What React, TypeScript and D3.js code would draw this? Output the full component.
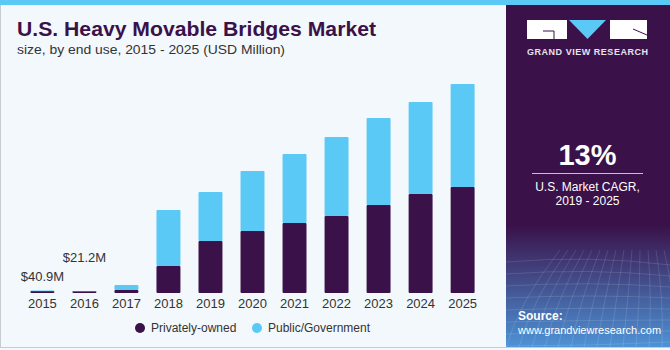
import React, { useRef, useEffect } from "react";
import * as d3 from "d3";

const years = ["2015", "2016", "2017", "2018", "2019", "2020", "2021", "2022", "2023", "2024", "2025"];
const privatelyOwned = [28, 14, 49, 443, 853, 1017, 1148, 1263, 1443, 1624, 1738];
const publicGovernment = [12.9, 7.2, 82, 918, 803, 984, 1132, 1295, 1427, 1508, 1690];
const valueLabels = [
  { year: "2015", text: "$40.9M", lift: 12 },
  { year: "2016", text: "$21.2M", lift: 31 },
];
const seriesNames = ["Privately-owned", "Public/Government"];
const colors = ["#3a1149", "#5bc9f5"];

const App = () => {
  const svgRef = useRef<SVGSVGElement>(null);

  useEffect(() => {
    const svg = d3.select(svgRef.current);
    svg.selectAll("*").remove();
    const width = 670;
    const height = 350;
    const font = "'Liberation Sans', Arial, sans-serif";

    // background + frame
    svg.append("rect").attr("width", width).attr("height", height).attr("fill", "#f3f8fc");
    svg.append("rect").attr("x", 0).attr("y", 0).attr("width", width).attr("height", 5).attr("fill", "#5bc9f5");
    svg.append("line").attr("x1", 0.5).attr("x2", 0.5).attr("y1", 5).attr("y2", 348).attr("stroke", "#c8ccd0");
    svg.append("line").attr("x1", 0).attr("x2", width).attr("y1", 347.5).attr("y2", 347.5).attr("stroke", "#c8ccd0");

    // title
    svg.append("text").attr("x", 17).attr("y", 36)
      .attr("font-family", font).attr("font-weight", 700).attr("font-size", 20.5)
      .attr("fill", "#3a1149").attr("textLength", 359).attr("lengthAdjust", "spacingAndGlyphs")
      .text("U.S. Heavy Movable Bridges Market");
    svg.append("text").attr("x", 17).attr("y", 54)
      .attr("font-family", font).attr("font-size", 13).attr("fill", "#333")
      .attr("textLength", 268).attr("lengthAdjust", "spacingAndGlyphs")
      .text("size, by end use, 2015 - 2025 (USD Million)");

    // chart
    const baseline = 293;
    const x = d3.scaleBand().domain(years).range([22, 483]).paddingInner(0.43).paddingOuter(0.2);
    const y = d3.scaleLinear().domain([0, 3428]).range([baseline, 84]);

    const rows = years.map((yr, i) => ({ year: yr, p: privatelyOwned[i], g: publicGovernment[i] }));
    const stacked = d3.stack<any>().keys(["p", "g"])(rows);

    svg.append("g").selectAll("g").data(stacked).enter().append("g")
      .attr("fill", (_d, i) => colors[i])
      .selectAll("rect").data((d) => d).enter().append("rect")
      .attr("x", (d: any) => x(d.data.year) as number)
      .attr("width", x.bandwidth())
      .attr("y", (d) => Math.min(y(d[1]), baseline - 2))
      .attr("height", (d) => Math.max(y(d[0]) - y(d[1]), d[0] === 0 ? 2 : 0))
      .attr("rx", 1);

    const axis = svg.append("g").attr("transform", `translate(0,${baseline})`)
      .call(d3.axisBottom(x).tickSize(0).tickPadding(6));
    axis.select(".domain").remove();
    axis.selectAll("text").attr("font-family", font).attr("font-size", 13).attr("fill", "#333");

    svg.selectAll(".vlabel").data(valueLabels).enter().append("text")
      .attr("x", (d) => (x(d.year) as number) + x.bandwidth() / 2)
      .attr("y", (d) => baseline - d.lift)
      .attr("text-anchor", "middle").attr("font-family", font).attr("font-size", 13).attr("fill", "#333")
      .text((d) => d.text);

    // legend
    const legendX = [140, 257];
    seriesNames.forEach((name, i) => {
      svg.append("circle").attr("cx", legendX[i]).attr("cy", 328).attr("r", 5).attr("fill", colors[i]);
      svg.append("text").attr("x", legendX[i] + 11).attr("y", 332)
        .attr("font-family", font).attr("font-size", 12).attr("fill", "#333").text(name);
    });

    // right panel
    const defs = svg.append("defs");
    const grad = defs.append("linearGradient").attr("id", "srcGrad").attr("x1", 0).attr("x2", 0).attr("y1", 0).attr("y2", 1);
    grad.append("stop").attr("offset", "0%").attr("stop-color", "#3a1149");
    grad.append("stop").attr("offset", "100%").attr("stop-color", "#4d93d6");
    svg.append("rect").attr("x", 506).attr("y", 5).attr("width", 164).attr("height", 342).attr("fill", "#3a1149");
    svg.append("rect").attr("x", 506).attr("y", 225).attr("width", 164).attr("height", 122).attr("fill", "url(#srcGrad)");

    // faint grid in source area
    const grid = svg.append("g").attr("stroke", "#ffffff").attr("stroke-opacity", 0.12).attr("fill", "none");
    d3.range(0, 14).forEach((k) => {
      grid.append("path").attr("d", `M${506 + k * 13},347 Q${520 + k * 12},300 ${560 + k * 8},250`);
    });
    d3.range(0, 8).forEach((k) => {
      grid.append("path").attr("d", `M506,${262 + k * 12} Q590,${255 + k * 13} 670,${265 + k * 11}`);
    });

    // logo
    svg.append("rect").attr("x", 527).attr("y", 20).attr("width", 40).attr("height", 19).attr("fill", "#fff");
    svg.append("path").attr("d", "M543,31 H554 V39").attr("stroke", "#3a1149").attr("stroke-width", 1).attr("fill", "none");
    svg.append("path").attr("d", "M569,20 L606,20 L587.5,39 Z").attr("fill", "#5bc9f5");
    svg.append("rect").attr("x", 610).attr("y", 20).attr("width", 37).attr("height", 19).attr("fill", "#fff");
    svg.append("path").attr("d", "M633,29 L647,35").attr("stroke", "#3a1149").attr("stroke-width", 1);
    svg.append("text").attr("x", 587.5).attr("y", 55).attr("text-anchor", "middle")
      .attr("font-family", font).attr("font-weight", 700).attr("font-size", 9).attr("fill", "#e8e4ec")
      .attr("textLength", 121).attr("lengthAdjust", "spacing").text("GRAND VIEW RESEARCH");

    svg.append("text").attr("x", 587.5).attr("y", 165).attr("text-anchor", "middle")
      .attr("font-family", font).attr("font-weight", 700).attr("font-size", 29).attr("fill", "#fff").text("13%");
    svg.append("line").attr("x1", 532).attr("x2", 643).attr("y1", 173.5).attr("y2", 173.5).attr("stroke", "#c9bfd2");
    svg.append("text").attr("x", 587.5).attr("y", 191).attr("text-anchor", "middle")
      .attr("font-family", font).attr("font-size", 12).attr("fill", "#fff").text("U.S. Market CAGR,");
    svg.append("text").attr("x", 587.5).attr("y", 205).attr("text-anchor", "middle")
      .attr("font-family", font).attr("font-size", 12).attr("fill", "#fff").text("2019 - 2025");

    svg.append("text").attr("x", 518).attr("y", 320)
      .attr("font-family", font).attr("font-weight", 700).attr("font-size", 12).attr("fill", "#fff").text("Source:");
    svg.append("text").attr("x", 518).attr("y", 334)
      .attr("font-family", font).attr("font-size", 11).attr("fill", "#fff")
      .text("www.grandviewresearch.com");
  }, []);

  return (
    <svg ref={svgRef} width={670} height={350}
      style={{ position: "absolute", top: 0, left: 0, display: "block" }}></svg>
  );
};

export default App;
